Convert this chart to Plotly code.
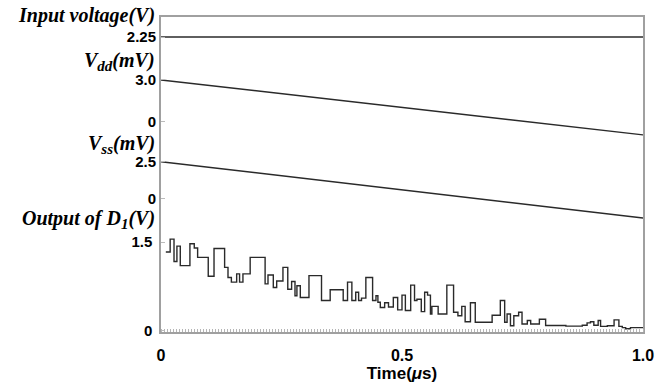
import plotly.graph_objects as go

# ---- data ----
time_line = [0.0, 1.0]
input_voltage = [2.25, 2.25]          # V
vdd = [3.0, -0.95]                    # mV
vss = [2.5, -1.35]                    # mV

out_t = [0.010, 0.019, 0.027, 0.033, 0.040, 0.060, 0.069, 0.076, 0.098, 0.110,
         0.132, 0.139, 0.146, 0.157, 0.163, 0.170, 0.185, 0.216, 0.222, 0.233,
         0.240, 0.253, 0.263, 0.271, 0.278, 0.282, 0.289, 0.307, 0.333, 0.351,
         0.378, 0.387, 0.396, 0.404, 0.410, 0.416, 0.425, 0.439, 0.446, 0.450,
         0.455, 0.464, 0.472, 0.482, 0.491, 0.500, 0.507, 0.518, 0.526, 0.531,
         0.540, 0.547, 0.553, 0.559, 0.562, 0.575, 0.593, 0.607, 0.616, 0.624,
         0.631, 0.642, 0.652, 0.687, 0.704, 0.713, 0.718, 0.725, 0.732, 0.742,
         0.749, 0.760, 0.767, 0.785, 0.798, 0.840, 0.874, 0.884, 0.891, 0.898,
         0.907, 0.912, 0.926, 0.940, 0.950, 0.957, 0.964, 0.974, 1.000]
out_v = [1.33, 1.55, 1.17, 1.43, 1.10, 1.47, 1.40, 1.24, 0.92, 1.39,
         1.07, 0.90, 0.82, 0.96, 0.82, 0.96, 1.24, 0.79, 0.94, 0.73,
         0.84, 1.07, 0.70, 0.83, 0.59, 0.76, 0.56, 0.93, 0.51, 0.69,
         0.51, 0.82, 0.51, 0.65, 0.51, 0.55, 0.90, 0.51, 0.59, 0.48,
         0.39, 0.47, 0.40, 0.56, 0.35, 0.60, 0.34, 0.77, 0.51, 0.53,
         0.32, 0.65, 0.60, 0.28, 0.41, 0.28, 0.77, 0.31, 0.25, 0.41,
         0.15, 0.47, 0.14, 0.26, 0.51, 0.14, 0.28, 0.08, 0.25, 0.31,
         0.11, 0.17, 0.11, 0.19, 0.085, 0.075, 0.09, 0.13, 0.15, 0.09,
         0.17, 0.07, 0.08, 0.18, 0.07, 0.05, 0.03, 0.05, 0.05]

x_ticks = [0, 0.5, 1.0]
x_ticktext = ["0", "0.5", "1.0"]

LINE = "#2a2a2a"
FRAME = "#a0a0a0"
tickfont = dict(family="Liberation Sans", size=15, color="black", weight="bold")

fig = go.Figure()
fig.add_trace(go.Scatter(x=out_t, y=out_v, mode="lines", line=dict(color=LINE, width=1.4, shape="hv"), yaxis="y"))
fig.add_trace(go.Scatter(x=time_line, y=vss, mode="lines", line=dict(color=LINE, width=1.4), yaxis="y2"))
fig.add_trace(go.Scatter(x=time_line, y=vdd, mode="lines", line=dict(color=LINE, width=1.4), yaxis="y3"))
fig.add_trace(go.Scatter(x=time_line, y=input_voltage, mode="lines", line=dict(color=LINE, width=1.4), yaxis="y4"))

common_y = dict(showgrid=False, zeroline=False, ticks="inside", ticklen=4, tickcolor="#bbbbbb",
                tickfont=tickfont, ticklabelstandoff=4, automargin=False)

fig.update_layout(
    width=658, height=390,
    margin=dict(l=161, r=15, t=17, b=58, autoexpand=False),
    plot_bgcolor="white", paper_bgcolor="white",
    showlegend=False,
    xaxis=dict(range=[0, 1], tickvals=x_ticks, ticktext=x_ticktext, showgrid=False, zeroline=False,
               showline=True, mirror=True, linecolor=FRAME, linewidth=1.5, automargin=False,
               ticks="", tickfont=dict(family="Liberation Sans", size=16, color="black", weight="bold"),
               ticklabelstandoff=8,
               minor=dict(ticks="inside", ticklen=3, dtick=0.00625, tickcolor="#b5b5b5", tickwidth=1),
               title=dict(text="Time(<i>μ</i>s)", font=dict(family="Liberation Sans", size=17, color="black", weight="bold"),
                          standoff=4)),
    yaxis=dict(range=[-0.025, 5.314], tickvals=[0, 1.5], ticktext=["0", "1.5"],
               showline=True, mirror=True, linecolor=FRAME, linewidth=1.5, **common_y),
    yaxis2=dict(range=[-9.13, 12.38], tickvals=[0, 2.5], ticktext=["0", "2.5"],
                overlaying="y", anchor="x", side="left", showline=False, **common_y),
    yaxis3=dict(range=[-15.13, 7.53], tickvals=[0, 3.0], ticktext=["0", "3.0"],
                overlaying="y", anchor="x", side="left", showline=False, **common_y),
    yaxis4=dict(range=[0, 2.403], tickvals=[2.25], ticktext=["2.25"],
                overlaying="y", anchor="x", side="left", showline=False, **common_y),
)

lab_font = dict(family="Liberation Serif", size=20, color="black", weight="bold", style="italic")
sub = '<span style="font-size:15px">{}</span>'
labels = [
    ("Input voltage(V)", 1.005),
    ("V<sub>" + sub.format("dd") + "</sub>(mV)", 0.858),
    ("V<sub>" + sub.format("ss") + "</sub>(mV)", 0.595),
    ("Output of D<sub>" + sub.format("1") + "</sub>(V)", 0.358),
]
for text, yp in labels:
    fig.add_annotation(text=text, xref="paper", yref="paper", x=-0.008, y=yp,
                       xanchor="right", yanchor="middle", showarrow=False, font=lab_font)

fig.write_html("out.html")
